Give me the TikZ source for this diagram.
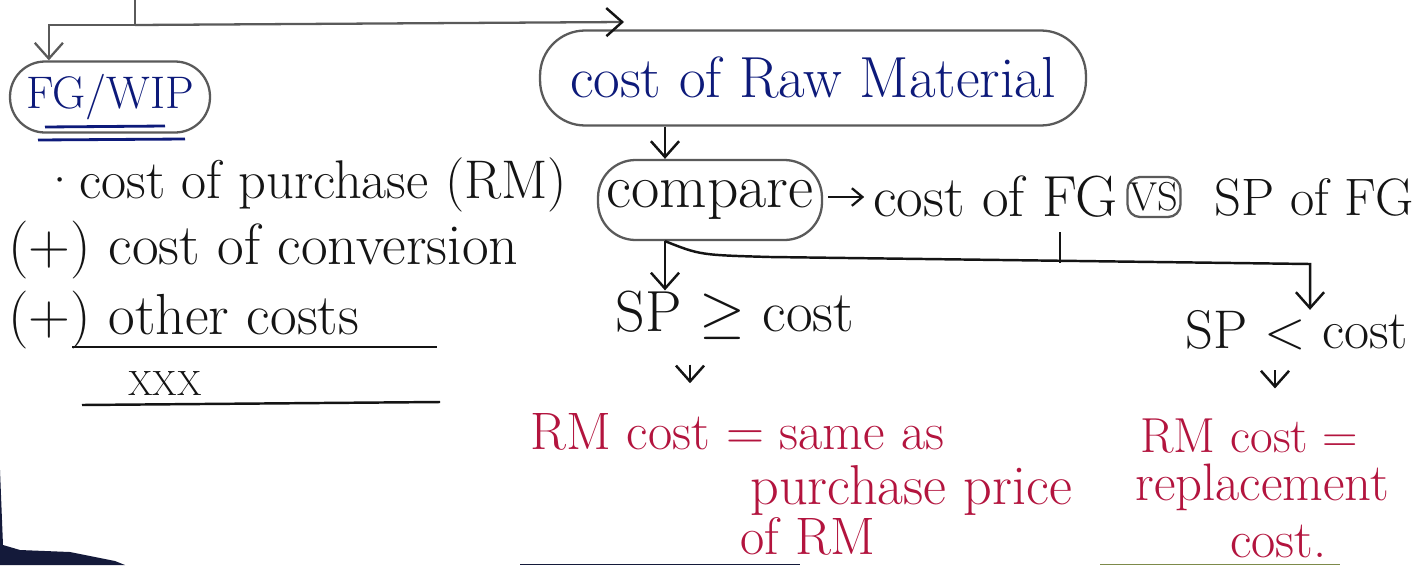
\documentclass[tikz,border=0pt]{standalone}
\usepackage{fontspec}
\usepackage{graphicx}
\usetikzlibrary{arrows.meta,calc}
\definecolor{inkblue}{HTML}{0D1A7A}
\definecolor{inkred}{HTML}{B3143E}
\definecolor{inkblack}{HTML}{141414}
\definecolor{pencil}{HTML}{5A5A5A}
\definecolor{bandcol}{HTML}{141A3A}
\definecolor{bandgreen}{HTML}{7D8A4A}
\newcommand{\hs}[1]{\fontsize{#1}{#1}\selectfont}
\newcommand{\bigge}{\scalebox{1.35}{$\geq$}}
\tikzset{
  hand/.style={inner sep=0pt, text=inkblack, font=\hs{31}},
  bluehand/.style={hand, text=inkblue},
  redhand/.style={hand, text=inkred, font=\hs{30}},
  bubble/.style={draw=pencil, line width=1.3pt, rounded corners=#1},
  bubble/.default=0.8cm,
  pen/.style={draw=inkblack, line width=1.4pt},
  arr/.style={pen, -{Straight Barb[length=9pt,width=16pt,line width=1.4pt]}},
  smallarr/.style={pen, -{Straight Barb[length=6pt,width=10pt,line width=1.3pt]}},
  pencilline/.style={draw=pencil, line width=1.3pt},
  pencilarr/.style={pencilline, -{Straight Barb[length=9pt,width=16pt,line width=1.3pt]}},
}
\begin{document}
\begin{tikzpicture}[x=0.02cm,y=-0.02cm]
\useasboundingbox (0,0) rectangle (1422,565);
\fill[white] (0,0) rectangle (1422,565);

% boxed headings
\node[bubble=0.7cm, minimum width=4cm, minimum height=1.42cm, bluehand, font=\hs{26}] (fg) at (110,97) {FG/WIP};
\node[bubble=0.9cm, minimum width=10.92cm, minimum height=1.9cm, bluehand, font=\hs{33}] (rm) at (813,78) {cost of Raw Material};
\draw[inkblue, line width=1.6pt] (45,127) -- (165,126);
\draw[inkblue, line width=1.6pt] (38,140) -- (185,139);

% comparison row
\node[bubble=0.75cm, minimum width=4.48cm, minimum height=1.6cm, hand, font=\hs{35}] (cmp) at (710,200) {compare};
\node[hand, anchor=west, font=\hs{33}] (cfg) at (873,197) {cost of FG};
\node[bubble=0.25cm, minimum width=1.06cm, minimum height=0.8cm, hand, font=\hs{23}] (vs) at (1154,197) {VS};
\node[hand, anchor=west, font=\hs{30}] (spfg) at (1214,197) {SP of FG};

% cost build-up on the left
\node[hand, anchor=west] (l1) at (40,185) {·cost of purchase (RM)};
\node[hand, anchor=west, font=\hs{33}] (l2) at (8,250) {(+) cost of conversion};
\node[hand, anchor=west, font=\hs{33}] (l3) at (8,320) {(+) other costs};
\draw[pen] (72,347) -- (437,347);
\node[hand, font=\hs{20}] (tot) at (165,383) {XXX};
\draw[pen] (82,405) -- (440,402);

% the two cases
\node[hand, font=\hs{33}] (spge) at (735,315) {SP \bigge{} cost};
\node[hand, font=\hs{31}] (splt) at (1297,330) {SP < cost};

\node[redhand, anchor=west] (r1a) at (530,432) {RM cost = same as};
\node[redhand, anchor=west, font=\hs{32}] (r1b) at (750,490) {purchase price};
\node[redhand, anchor=west] (r1c) at (740,536) {of RM};
\node[redhand, anchor=west, font=\hs{28}] (r2a) at (1140,436) {RM cost =};
\node[redhand, anchor=west, font=\hs{30}] (r2b) at (1135,487) {replacement};
\node[redhand, anchor=west] (r2c) at (1230,541) {cost.};

% connectors
\coordinate (src) at (135,0);
\coordinate (jn) at (135,25);
\coordinate (ahead) at (624,22);
\draw[pencilline] (src) -- (jn);
\draw[pencilline, -{Straight Barb[length=9pt,width=16pt,line width=1.4pt,color=inkblack]}] (jn) -- (ahead);
\draw[pencilarr] (jn) -| ([xshift=0.8cm]fg.north west);

\coordinate (cx) at (665,0);
\draw[arr] (rm.south -| cx) -- (cmp.north -| cx);
\draw[smallarr, shorten <=3pt, shorten >=5pt] (cmp.east |- cfg.west) -- (cfg.west);
\draw[arr] (cmp.south -| cx) -- (spge.north -| cx);

\coordinate (b1) at (770,257);
\coordinate (b2) at (1310,264);
\draw[arr] (cmp.south -| cx) .. controls (700,255) .. (b1) -- (b2) -- (splt.north -| b2);
\coordinate (tick) at (1060,263);
\draw[pen] (tick) -- ++(0,-31);

\coordinate (ax1) at (690,0);
\coordinate (ax2) at (1275,0);
\draw[arr, shorten <=0.5cm, shorten >=0.6cm] (spge.south -| ax1) -- (r1a.north -| ax1);
\draw[arr, shorten <=0.4cm, shorten >=0.6cm] (splt.south -| ax2) -- (r2a.north -| ax2);

% edge of the page below
\fill[bandcol] (0,470) -- (3,545) -- (20,550) -- (70,552) -- (115,561) -- (125,565) -- (0,565) -- cycle;
\fill[bandcol] (520,563.5) rectangle (800,565);
\fill[bandgreen] (1100,563.5) rectangle (1340,565);
\end{tikzpicture}
\end{document}
